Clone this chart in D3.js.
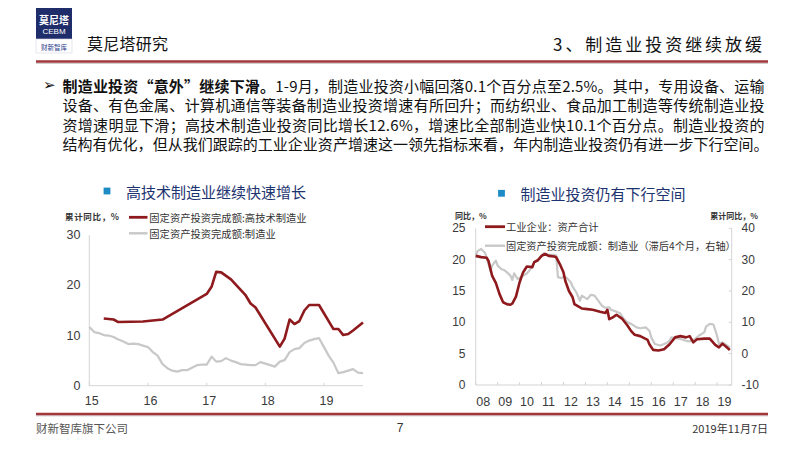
<!DOCTYPE html>
<html>
<head>
<meta charset="utf-8">
<script src="https://cdn.jsdelivr.net/npm/d3@7"></script>
<style>
  html, body { margin: 0; padding: 0; background: #fff; }
  svg { display: block; }
</style>
</head>
<body>
<svg id="page" width="800" height="449"></svg>
<script>
// left chart: high-tech manufacturing vs all manufacturing (cumulative yoy, %)
var hiTechMonths = ["2015-04", "2015-06", "2015-07", "2015-12", "2016-04", "2017-01", "2017-02", "2017-03",
                    "2017-04", "2017-06", "2017-09", "2017-10", "2017-11", "2018-04", "2018-05", "2018-06",
                    "2018-07", "2018-08", "2018-09", "2018-10", "2018-12", "2019-03", "2019-04", "2019-05",
                    "2019-06", "2019-07", "2019-08", "2019-09"];
var hiTechValues = [13.4, 13.2, 12.7, 12.8, 13.2, 18.3, 19.8, 22.7,
                    22.6, 21.2, 18.0, 16.4, 15.6, 7.8, 9.4, 13.2,
                    12.3, 12.9, 15.0, 16.1, 16.1, 11.3, 11.3, 10.1,
                    10.3, 11.0, 11.8, 12.6];

var mfgStart = "2015-01";
var mfgValues = [11.7, 10.7, 10.5, 10.1, 10.0, 9.7, 9.2, 8.8, 8.3, 8.4, 8.3, 8.0,
                 7.7, 6.7, 6.0, 4.3, 3.5, 3.0, 2.8, 3.1, 3.1, 3.6, 4.1, 4.2,
                 4.2, 5.8, 4.8, 4.9, 5.5, 5.0, 4.7, 4.3, 4.2, 4.1, 4.1, 4.7,
                 4.4, 4.1, 3.8, 4.8, 5.1, 6.7, 7.3, 7.5, 8.5, 9.0, 9.3, 9.5,
                 7.7, 5.9, 4.6, 2.5, 2.7, 3.0, 3.3, 2.6, 2.5];

var leftYears = ["15", "16", "17", "18", "19"];
var leftTicks = [0, 10, 20, 30];

// right chart: industrial assets (yoy, left) vs manufacturing FAI lagged 4m (right)
var assetMonths = ["2008-01", "2008-04", "2008-07", "2008-08", "2008-10", "2008-12", "2009-02", "2009-04",
                   "2009-06", "2009-08", "2009-09", "2009-11", "2010-01", "2010-03", "2010-05", "2010-08",
                   "2010-09", "2010-11", "2011-01", "2011-03", "2011-05", "2011-08", "2011-09", "2011-11",
                   "2012-01", "2012-02", "2012-04", "2012-06", "2012-07", "2012-10", "2012-11", "2013-02",
                   "2013-05", "2013-09", "2013-12", "2014-01", "2014-02", "2014-04", "2014-06", "2014-09",
                   "2014-12", "2015-02", "2015-04", "2015-07", "2015-11", "2015-12", "2016-02", "2016-05",
                   "2016-08", "2016-11", "2017-02", "2017-05", "2017-08", "2017-10", "2017-12", "2018-02",
                   "2018-06", "2018-09", "2018-12", "2019-02", "2019-04", "2019-06", "2019-08"];
var assetValues = [20.6, 20.4, 20.3, 19.8, 17.4, 16.3, 14.5, 13.2,
                   12.9, 12.8, 13.0, 14.1, 16.4, 18.0, 18.9, 18.8,
                   19.6, 19.9, 20.6, 20.9, 20.6, 20.5, 20.4, 19.3,
                   18.0, 16.6, 15.0, 14.0, 12.9, 12.4, 12.2, 12.1,
                   12.0, 11.7, 11.5, 12.0, 10.5, 10.8, 11.2, 10.6,
                   9.5, 8.6, 8.0, 7.8, 7.2, 6.5, 5.6, 5.5,
                   5.7, 6.5, 7.6, 7.8, 7.6, 7.8, 6.8, 7.3,
                   7.4, 7.4, 6.4, 6.0, 6.6, 6.1, 5.6];

var lagMonths = ["2008-01", "2008-02", "2008-04", "2008-06", "2008-07", "2008-09", "2008-10", "2008-12",
                 "2009-01", "2009-03", "2009-05", "2009-06", "2009-08", "2009-09", "2009-10", "2009-12",
                 "2010-02", "2010-05", "2010-07", "2010-09", "2010-12", "2011-02", "2011-05", "2011-08",
                 "2011-09", "2011-10", "2011-12", "2012-01", "2012-03", "2012-05", "2012-06", "2012-08",
                 "2012-10", "2012-11", "2013-02", "2013-04", "2013-06", "2013-08", "2013-10", "2013-12",
                 "2014-02", "2014-03", "2014-06", "2014-08", "2014-10", "2014-12", "2015-02", "2015-05",
                 "2015-07", "2015-10", "2015-12", "2016-01", "2016-03", "2016-06", "2016-09", "2016-11",
                 "2016-12", "2017-02", "2017-05", "2017-08", "2017-10", "2018-01", "2018-03", "2018-06",
                 "2018-07", "2018-09", "2018-11", "2019-01", "2019-02", "2019-04", "2019-06", "2019-08"];
var lagValues = [31.3, 32.7, 33.4, 32.3, 30.7, 26.5, 28.1, 29.7,
                 28.1, 27.0, 26.5, 26.0, 24.9, 23.5, 25.6, 23.8,
                 24.6, 25.6, 27.0, 29.1, 30.5, 32.0, 31.5, 31.5,
                 31.3, 24.4, 24.1, 24.6, 24.1, 22.8, 21.4, 19.6,
                 16.9, 18.5, 17.4, 18.8, 18.5, 16.9, 15.3, 14.6,
                 14.8, 14.0, 13.4, 12.9, 11.1, 10.0, 9.5, 8.4,
                 8.1, 8.4, 7.3, 5.2, 3.1, 2.6, 3.3, 4.1,
                 5.2, 5.0, 4.7, 4.1, 3.9, 4.7, 5.7, 6.8,
                 8.6, 9.5, 9.3, 5.7, 3.1, 3.6, 2.8, 2.0];

var rightYears = ["08", "09", "10", "11", "12", "13", "14", "15", "16", "17", "18", "19"];
var rightLeftTicks = [0, 5, 10, 15, 20, 25];
var rightRightTicks = [-10, 0, 10, 20, 30, 40];

var paraLines = [
  "设备、有色金属、计算机通信等装备制造业投资增速有所回升；而纺织业、食品加工制造等传统制造业投",
  "资增速明显下滑；高技术制造业投资同比增长12.6%，增速比全部制造业快10.1个百分点。制造业投资的",
  "结构有优化，但从我们跟踪的工业企业资产增速这一领先指标来看，年内制造业投资仍有进一步下行空间。"
];

var cjk = '"Noto Sans CJK SC", "Noto Sans", sans-serif';
var num = '"Liberation Sans", Arial, sans-serif';
var red = "#8e1a1e", grey = "#c8c8c8", navy = "#1c3370", lineRed = "#a3373b";

var svg = d3.select("#page");
var parse = d3.timeParse("%Y-%m");

svg.append("rect").attr("width", 800).attr("height", 449).attr("fill", "#fff");

/* header */
svg.append("rect").attr("x", 36).attr("y", 8).attr("width", 36).attr("height", 31).attr("fill", "#1f2d6b");
svg.append("rect").attr("x", 36).attr("y", 39).attr("width", 36).attr("height", 14)
    .attr("fill", "#fff").attr("stroke", "#d8d8e4").attr("stroke-width", 0.6);
svg.append("text").attr("x", 54).attr("y", 19).text("莫尼塔")
    .attr("text-anchor", "middle").attr("dominant-baseline", "central")
    .style("font-family", cjk).style("font-size", "10px").style("font-weight", "bold").attr("fill", "#fff");
svg.append("text").attr("x", 54).attr("y", 31).text("CEBM")
    .attr("text-anchor", "middle").attr("dominant-baseline", "central")
    .style("font-family", num).style("font-size", "8px").attr("fill", "#fff");
svg.append("text").attr("x", 54).attr("y", 46.5).text("财新智库")
    .attr("text-anchor", "middle").attr("dominant-baseline", "central")
    .style("font-family", cjk).style("font-size", "6.5px").attr("fill", "#2b3c8a");
svg.append("text").attr("x", 87).attr("y", 43).text("莫尼塔研究")
    .attr("dominant-baseline", "central").attr("textLength", 81)
    .style("font-family", cjk).style("font-size", "16px").attr("fill", "#111");
svg.append("text").attr("x", 553).attr("y", 43).text("3、制造业投资继续放缓")
    .attr("dominant-baseline", "central").attr("textLength", 209).attr("lengthAdjust", "spacing")
    .style("font-family", cjk).style("font-size", "17px").attr("fill", "#111");

function rule(y) {
  svg.append("line").attr("x1", 36).attr("x2", 768).attr("y1", y + 1.8).attr("y2", y + 1.8)
      .attr("stroke", "#c4c4c4").attr("stroke-width", 1);
  svg.append("line").attr("x1", 36).attr("x2", 768).attr("y1", y).attr("y2", y)
      .attr("stroke", lineRed).attr("stroke-width", 2.4);
}
rule(61.5);
rule(414);

/* paragraph */
svg.append("text").attr("x", 43).attr("y", 85).text("➢")
    .attr("dominant-baseline", "central")
    .style("font-family", '"DejaVu Sans", sans-serif').style("font-size", "15px").attr("fill", "#111");
var first = svg.append("text").attr("x", 62.5).attr("y", 84.7)
    .attr("dominant-baseline", "central").attr("textLength", 702).attr("lengthAdjust", "spacing")
    .style("font-family", cjk).style("font-size", "15px").attr("fill", "#111");
first.append("tspan").style("font-weight", "bold").text("制造业投资“意外”继续下滑。");
first.append("tspan").text("1-9月，制造业投资小幅回落0.1个百分点至2.5%。其中，专用设备、运输");
paraLines.forEach(function(t, i) {
  svg.append("text").attr("x", 62.5).attr("y", 104.3 + i * 19.7).text(t)
      .attr("dominant-baseline", "central").attr("textLength", i == 2 ? 706 : 702).attr("lengthAdjust", "spacing")
      .style("font-family", cjk).style("font-size", "15px").attr("fill", "#111");
});

/* chart titles */
function title(x, y, t) {
  svg.append("rect").attr("x", x - 3.4).attr("y", y - 3.4).attr("width", 6.8).attr("height", 6.8).attr("fill", "#1c8bc6");
  svg.append("text").attr("x", x + 19).attr("y", y).text(t)
      .attr("dominant-baseline", "central")
      .style("font-family", cjk).style("font-size", "15px").attr("fill", navy);
}
title(107, 191, "高技术制造业继续快速增长");
title(501.5, 193.3, "制造业投资仍有下行空间");

function label(x, y, t, anchor, size, fam, fill, weight) {
  return svg.append("text").attr("x", x).attr("y", y).text(t)
      .attr("text-anchor", anchor || "start").attr("dominant-baseline", "central")
      .style("font-family", fam || cjk).style("font-size", size + "px")
      .style("font-weight", weight || "normal").attr("fill", fill || "#333");
}

/* left chart */
var xL = d3.scaleTime().domain([parse("2015-01"), parse("2019-09")]).range([89.3, 363]);
var yL = d3.scaleLinear().domain([0, 30]).range([385.7, 235.3]);

svg.append("line").attr("x1", 89.3).attr("x2", 89.3).attr("y1", yL(30)).attr("y2", yL(0))
    .attr("stroke", "#d4d4d4").attr("stroke-width", 1);
svg.append("line").attr("x1", 89.3).attr("x2", 363).attr("y1", yL(0)).attr("y2", yL(0))
    .attr("stroke", "#d4d4d4").attr("stroke-width", 1);

leftTicks.forEach(function(v) {
  label(80.5, yL(v), v, "end", 12.5, num, "#3a3a3a");
});
leftYears.forEach(function(yr) {
  var px = xL(parse("20" + yr + "-01"));
  svg.append("line").attr("x1", px).attr("x2", px).attr("y1", yL(0)).attr("y2", yL(0) - 3)
      .attr("stroke", "#d4d4d4");
  label(px + 2.5, 401, yr, "middle", 12.5, num, "#3a3a3a");
});

var mfgData = mfgValues.map(function(v, i) {
  return [d3.timeMonth.offset(parse(mfgStart), i), v];
});
var hiData = hiTechMonths.map(function(m, i) { return [parse(m), hiTechValues[i]]; });
var lineL = d3.line().x(function(d) { return xL(d[0]); }).y(function(d) { return yL(d[1]); });

svg.append("path").datum(mfgData).attr("d", lineL)
    .attr("fill", "none").attr("stroke", grey).attr("stroke-width", 2.2).attr("stroke-linejoin", "round");
svg.append("path").datum(hiData).attr("d", lineL)
    .attr("fill", "none").attr("stroke", red).attr("stroke-width", 2.6).attr("stroke-linejoin", "round");

label(65, 215.7, "累计同比，%", "start", 8.5, cjk, "#333", "bold").attr("textLength", 54);
svg.append("line").attr("x1", 129).attr("x2", 147.5).attr("y1", 217.3).attr("y2", 217.3)
    .attr("stroke", red).attr("stroke-width", 2.8);
label(149.3, 217.3, "固定资产投资完成额:高技术制造业", "start", 10.3, cjk, "#333");
svg.append("line").attr("x1", 129).attr("x2", 147.5).attr("y1", 233.3).attr("y2", 233.3)
    .attr("stroke", grey).attr("stroke-width", 2.4);
label(149.3, 233.3, "固定资产投资完成额:制造业", "start", 10.3, cjk, "#333");

/* right chart */
var xR = d3.scaleTime().domain([parse("2008-01"), parse("2019-09")]).range([475.7, 731.7]);
var yR = d3.scaleLinear().domain([0, 25]).range([385, 228.3]);
var yR2 = d3.scaleLinear().domain([-10, 40]).range([385, 228.3]);

svg.append("line").attr("x1", 475.7).attr("x2", 475.7).attr("y1", 228.3).attr("y2", 385)
    .attr("stroke", "#d4d4d4");
svg.append("line").attr("x1", 731.7).attr("x2", 731.7).attr("y1", 228.3).attr("y2", 385)
    .attr("stroke", "#d4d4d4");
svg.append("line").attr("x1", 475.7).attr("x2", 731.7).attr("y1", 385).attr("y2", 385)
    .attr("stroke", "#d4d4d4");

rightLeftTicks.forEach(function(v) {
  label(465.5, yR(v), v, "end", 12, num, "#3a3a3a");
});
rightRightTicks.forEach(function(v) {
  svg.append("line").attr("x1", 731.7).attr("x2", 728.7).attr("y1", yR2(v)).attr("y2", yR2(v))
      .attr("stroke", "#d4d4d4");
  label(741.5, yR2(v), v, "start", 12, num, "#3a3a3a");
});
rightYears.forEach(function(yr) {
  var px = xR(parse("20" + yr + "-01"));
  svg.append("line").attr("x1", px).attr("x2", px).attr("y1", 385).attr("y2", 382)
      .attr("stroke", "#d4d4d4");
  label(px + 0.5, 401.5, yr, "start", 12.5, num, "#3a3a3a");
});

var assetData = assetMonths.map(function(m, i) { return [parse(m), assetValues[i]]; });
var lagData = lagMonths.map(function(m, i) { return [parse(m), lagValues[i]]; });

svg.append("path").datum(lagData)
    .attr("d", d3.line().x(function(d) { return xR(d[0]); }).y(function(d) { return yR2(d[1]); }))
    .attr("fill", "none").attr("stroke", grey).attr("stroke-width", 2.2).attr("stroke-linejoin", "round");
svg.append("path").datum(assetData)
    .attr("d", d3.line().x(function(d) { return xR(d[0]); }).y(function(d) { return yR(d[1]); }))
    .attr("fill", "none").attr("stroke", red).attr("stroke-width", 2.6).attr("stroke-linejoin", "round");

// axis captions sit just above the top tick labels
label(455, 215.5, "同比，%", "start", 8, cjk, "#333", "bold");
label(758, 215.5, "累计同比，%", "end", 8, cjk, "#333", "bold");
svg.append("line").attr("x1", 485).attr("x2", 505).attr("y1", 226.7).attr("y2", 226.7)
    .attr("stroke", red).attr("stroke-width", 2.8);
label(506, 226.7, "工业企业：资产合计", "start", 10.3, cjk, "#333");
svg.append("line").attr("x1", 485).attr("x2", 505).attr("y1", 245.7).attr("y2", 245.7)
    .attr("stroke", grey).attr("stroke-width", 2.4);
label(506, 245.7, "固定资产投资完成额：制造业（滞后4个月，右轴）", "start", 10.2, cjk, "#333");

/* footer */
label(36, 428.3, "财新智库旗下公司", "start", 11.5, cjk, "#555");
label(400, 428.3, "7", "middle", 12, num, "#333");
label(768, 428.3, "2019年11月7日", "end", 11, cjk, "#333");
</script>
</body>
</html>
